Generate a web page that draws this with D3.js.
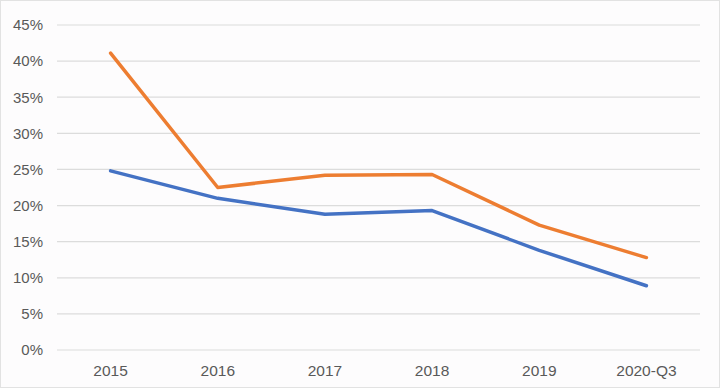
<!DOCTYPE html>
<html><head><meta charset="utf-8">
<script src="https://cdn.jsdelivr.net/npm/d3@7"></script>
<style>
html,body{margin:0;padding:0;background:#fff;}
svg{display:block;}
</style></head>
<body>
<script>
const categories = ["2015","2016","2017","2018","2019","2020-Q3"];
const seriesOrange = [41.1, 22.5, 24.2, 24.3, 17.3, 12.8];
const seriesBlue = [24.8, 21.0, 18.8, 19.3, 13.8, 8.9];
const yTicks = [0,5,10,15,20,25,30,35,40,45];

const W = 720, H = 388;
const m = {left:57, right:20, top:25, bottom:38};
const svg = d3.select("body").append("svg").attr("width",W).attr("height",H);
svg.append("rect").attr("x",0.5).attr("y",0.5).attr("width",W-1).attr("height",H-1)
  .attr("fill","#fdfcfd").attr("stroke","#e2e2e2");

const x = d3.scaleBand().domain(categories).range([m.left, W-m.right]);
const y = d3.scaleLinear().domain([0,45]).range([H-m.bottom, m.top]);

const grid = svg.append("g");
grid.selectAll("line").data(yTicks).join("line")
  .attr("x1",m.left).attr("x2",W-m.right)
  .attr("y1",d=>y(d)).attr("y2",d=>y(d))
  .attr("stroke","#dcdcdc").attr("stroke-width",1.2);

const yAxis = svg.append("g").attr("transform",`translate(${m.left},0)`)
  .call(d3.axisLeft(y).tickValues(yTicks).tickFormat(d=>d+"%").tickSize(0).tickPadding(14));
yAxis.select(".domain").remove();
yAxis.selectAll("text").attr("fill","#595959").style("font-family","Liberation Sans, Arial, sans-serif").style("font-size","15px");

const xAxis = svg.append("g").attr("transform",`translate(0,${H-m.bottom})`)
  .call(d3.axisBottom(x).tickSize(0).tickPadding(15));
xAxis.select(".domain").remove();
xAxis.selectAll("text").attr("fill","#595959").style("font-family","Liberation Sans, Arial, sans-serif").style("font-size","15.5px");

const line = d3.line().x((d,i)=>x(categories[i])+x.bandwidth()/2).y(d=>y(d));
svg.append("path").datum(seriesBlue).attr("d",line).attr("fill","none")
  .attr("stroke","#4472C4").attr("stroke-width",3.5).attr("stroke-linejoin","round").attr("stroke-linecap","round");
svg.append("path").datum(seriesOrange).attr("d",line).attr("fill","none")
  .attr("stroke","#ED7D31").attr("stroke-width",3.5).attr("stroke-linejoin","round").attr("stroke-linecap","round");
</script>
</body></html>
